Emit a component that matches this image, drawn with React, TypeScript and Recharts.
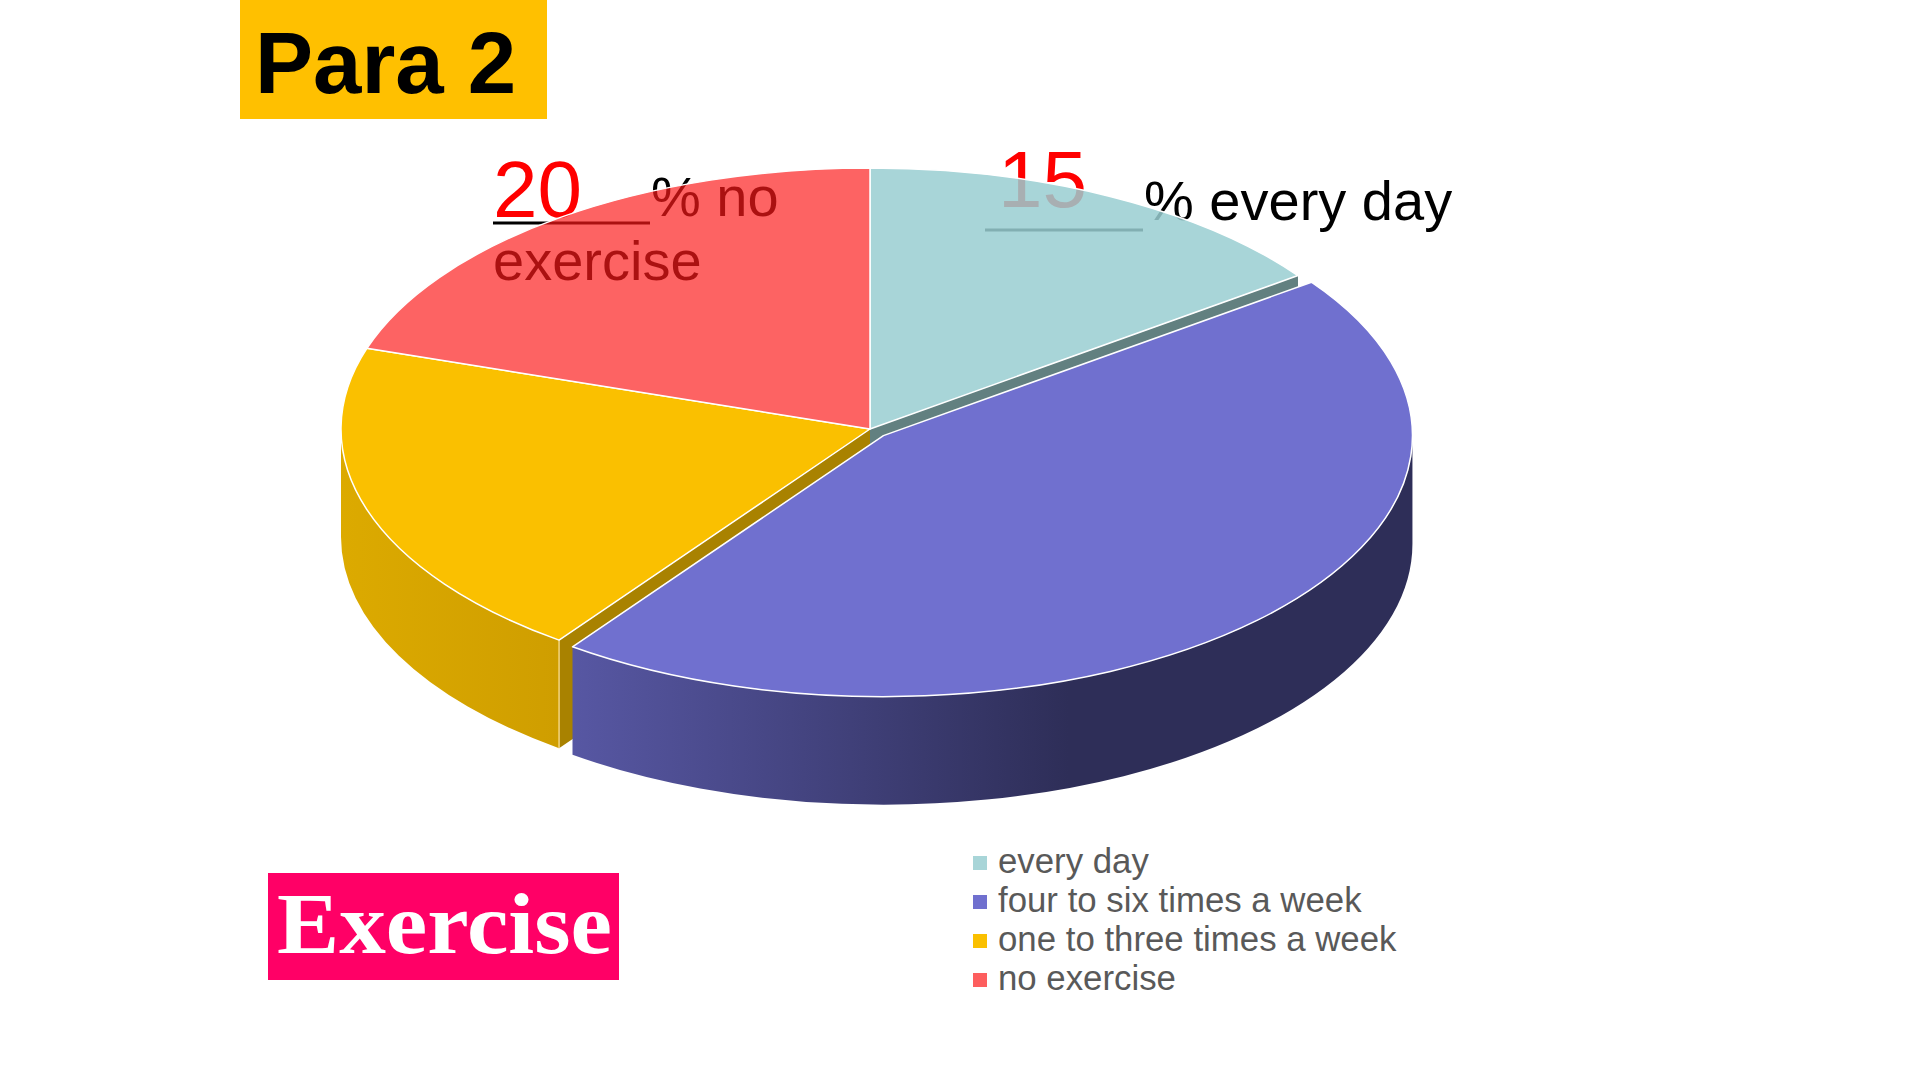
import React from 'react';
import { PieChart, Pie, Cell } from 'recharts';

// ---- data ----
const categories = ['every day', 'four to six times a week', 'one to three times a week', 'no exercise'];
const values = [15, 45, 20, 20];
const legendLabels = ['every day', 'four to six times a week', 'one to three times a week', 'no exercise'];
const data = categories.map((name, i) => ({ name, value: values[i] }));

// ---- styles ----
const legendColors = ['#A8D5D8', '#7070CF', '#FAC000', '#FD5E5E'];
const topFills = ['#99CED1', '#7070CF', '#FAC000', '#FC1919'];
const topOpacity = [0.85, 1, 1, 0.68];
const faceFills = ['#628080', '#3A3A70', '#A98200', '#B03030'];
const wallStops: [string, string][] = [
  ['#6E9FA2', '#4D7679'],
  ['#5757A3', '#2E2E58'],
  ['#DCAA00', '#CF9E00'],
  ['#C04040', '#A03030'],
];
const explodeDist = [0, 19, 0, 0];

const CX = 870;
const CY = 429;
const R = 529;
const RATIO = 0.4934;
const DEPTH = 108;

const rad = (d: number) => (d * Math.PI) / 180;
const idxOf = (p: any) => {
  const n = p.name ?? (p.payload && p.payload.name);
  const i = categories.indexOf(n);
  return i < 0 ? 0 : i;
};
const pt = (cx: number, cy: number, r: number, deg: number) => [
  cx + r * Math.cos(rad(deg)),
  cy - r * RATIO * Math.sin(rad(deg)),
];
const f = (p: number[]) => `${p[0].toFixed(2)},${p[1].toFixed(2)}`;

function geom(p: any) {
  const i = idxOf(p);
  const s = Math.max(p.startAngle, p.endAngle);
  const e = Math.min(p.startAngle, p.endAngle);
  const m = (s + e) / 2;
  const d = explodeDist[i];
  const cx = p.cx + d * Math.cos(rad(m));
  const cy = p.cy - d * RATIO * Math.sin(rad(m));
  return { i, s, e, cx, cy, r: p.outerRadius };
}

function FaceShape(p: any) {
  const { i, s, e, cx, cy, r } = geom(p);
  const n = categories.length;
  const prevExploded = explodeDist[(i - 1 + n) % n] > 0 || explodeDist[i] > 0;
  const nextExploded = explodeDist[(i + 1) % n] > 0 || explodeDist[i] > 0;
  const faces: any[] = [];
  // start edge: outward normal faces viewer when cos(s) < 0
  if (Math.cos(rad(s)) < -1e-6 && prevExploded) faces.push(s);
  // end edge: outward normal faces viewer when cos(e) > 0
  if (Math.cos(rad(e)) > 1e-6 && nextExploded) faces.push(e);
  return (
    <g>
      {faces.map((a, k) => {
        const q = pt(cx, cy, r, a);
        const d = `M${f([cx, cy])} L${f(q)} L${f([q[0], q[1] + DEPTH])} L${f([cx, cy + DEPTH])} Z`;
        return <path key={k} d={d} fill={faceFills[i]} stroke="none" />;
      })}
    </g>
  );
}

function WallShape(p: any) {
  const { i, s, e, cx, cy, r } = geom(p);
  const hi = Math.min(s, 0);
  const lo = Math.max(e, -180);
  if (hi <= lo) return <g />;
  const p1 = pt(cx, cy, r, hi);
  const p2 = pt(cx, cy, r, lo);
  const rb = r * RATIO;
  const d = `M${f(p1)} A${r} ${rb} 0 0 1 ${f(p2)} L${f([p2[0], p2[1] + DEPTH])} A${r} ${rb} 0 0 0 ${f([p1[0], p1[1] + DEPTH])} Z`;
  const gid = `wallgrad-${i}`;
  const x1 = cx - r;
  return (
    <g>
      <defs>
        <linearGradient id={gid} gradientUnits="userSpaceOnUse" x1={i === 1 ? p2[0] : x1} y1={0} x2={i === 1 ? cx + r * 0.35 : p1[0]} y2={0}>
          <stop offset="0%" stopColor={wallStops[i][0]} />
          <stop offset="100%" stopColor={wallStops[i][1]} />
        </linearGradient>
      </defs>
      <path d={d} fill={`url(#${gid})`} stroke="none" />
      {hi < 0 && i === 2 ? (
        <line x1={p1[0]} y1={p1[1]} x2={p1[0]} y2={p1[1] + DEPTH} stroke="#FFE6A0" strokeWidth={1.2} />
      ) : null}
    </g>
  );
}

function TopShape(p: any) {
  const { i, s, e, cx, cy, r } = geom(p);
  const p1 = pt(cx, cy, r, s);
  const p2 = pt(cx, cy, r, e);
  const large = s - e > 180 ? 1 : 0;
  const d = `M${f([cx, cy])} L${f(p1)} A${r} ${r * RATIO} 0 ${large} 1 ${f(p2)} Z`;
  return (
    <path
      d={d}
      fill={topFills[i]}
      fillOpacity={topOpacity[i]}
      stroke="#ffffff"
      strokeWidth={1.5}
      strokeLinejoin="round"
    />
  );
}

const SANS = '"Liberation Sans", Arial, sans-serif';
const SERIF = '"Liberation Serif", "Times New Roman", serif';

const legendBaselines = [873, 912, 951, 990];

export default function App() {
  const pieCommon = {
    data,
    dataKey: 'value',
    nameKey: 'name',
    cx: CX,
    cy: CY,
    outerRadius: R,
    innerRadius: 0,
    startAngle: 90,
    endAngle: -270,
    isAnimationActive: false,
    stroke: 'none',
  } as any;
  return (
    <div style={{ position: 'absolute', left: 0, top: 0, width: 1920, height: 1080, background: '#ffffff', overflow: 'hidden' }}>
      <svg width={1920} height={1080} style={{ position: 'absolute', left: 0, top: 0 }}>
        {/* title box */}
        <rect x={240} y={0} width={307} height={119} fill="#FFC000" />
        <text x={255} y={93} fontFamily={SANS} fontWeight="bold" fontSize={87} fill="#000000">Para 2</text>

        {/* labels (under the pie) */}
        <text x={493} y={217} fontFamily={SANS} fontSize={80} fill="#FF0000">20</text>
        <line x1={493} y1={223} x2={650} y2={223} stroke="#000000" strokeWidth={3} />
        <text x={651} y={216} fontFamily={SANS} fontSize={56} fill="#000000">% no</text>
        <text x={493} y={280} fontFamily={SANS} fontSize={56} fill="#000000">exercise</text>

        <text x={998} y={207} fontFamily={SANS} fontSize={80} fill="#FF0000">15</text>
        <line x1={985} y1={230} x2={1143} y2={230} stroke="#000000" strokeWidth={3} />
        <text x={1144} y={220} fontFamily={SANS} fontSize={56} fill="#000000">% every day</text>

        {/* legend */}
        {legendLabels.map((lab, i) => (
          <g key={lab}>
            <rect x={973} y={legendBaselines[i] - 17} width={14} height={14} fill={legendColors[i]} />
            <text x={998} y={legendBaselines[i]} fontFamily={SANS} fontSize={34.8} fill="#595959">{lab}</text>
          </g>
        ))}

        {/* Exercise box */}
        <rect x={268} y={873} width={351} height={107} fill="#FF0066" />
        <text x={277} y={953} fontFamily={SERIF} fontWeight="bold" fontSize={86} fill="#ffffff" textLength={335} lengthAdjust="spacingAndGlyphs">Exercise</text>
      </svg>

      <div style={{ position: 'absolute', left: 0, top: 0 }}>
        <PieChart width={1920} height={1080} margin={{ top: 0, right: 0, bottom: 0, left: 0 }}>
          <Pie {...pieCommon} shape={FaceShape} inactiveShape={FaceShape} activeShape={FaceShape}>
            {data.map((d, i) => <Cell key={`f${i}`} fill={faceFills[i]} />)}
          </Pie>
          <Pie {...pieCommon} shape={WallShape} inactiveShape={WallShape} activeShape={WallShape}>
            {data.map((d, i) => <Cell key={`w${i}`} fill={wallStops[i][0]} />)}
          </Pie>
          <Pie {...pieCommon} shape={TopShape} inactiveShape={TopShape} activeShape={TopShape}>
            {data.map((d, i) => <Cell key={`t${i}`} fill={topFills[i]} />)}
          </Pie>
        </PieChart>
      </div>
    </div>
  );
}
